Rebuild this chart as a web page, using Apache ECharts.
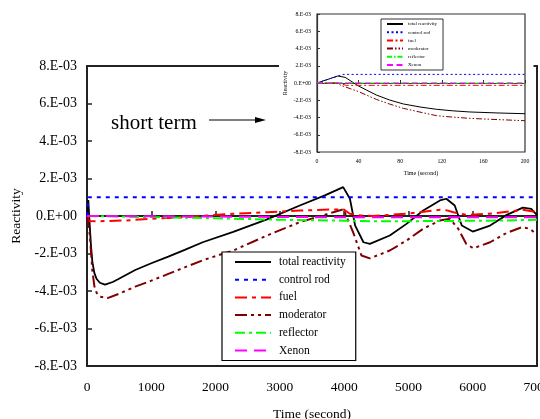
<!DOCTYPE html>
<html>
<head>
<meta charset="utf-8">
<script src="https://cdn.jsdelivr.net/npm/echarts@6/dist/echarts.min.js"></script>
<style>html,body{margin:0;padding:0;background:#fff}#c{width:540px;height:419px}</style>
</head>
<body>
<div id="c"></div>
<script>
// values in units of 1E-03
var seriesNames = ['total reactivity', 'control rod', 'fuel', 'moderator', 'reflector', 'Xenon'];
var yTickLabels = ['-8.E-03', '-6.E-03', '-4.E-03', '-2.E-03', '0.E+00', '2.E-03', '4.E-03', '6.E-03', '8.E-03'];
var xTicksMain = [0, 1000, 2000, 3000, 4000, 5000, 6000, 7000];
var xTicksInset = [0, 40, 80, 120, 160, 200];

var totalMain = [[0,0],[20,0.85],[40,-0.35],[60,-1.5],[83,-2.43],[115,-3.05],[150,-3.36],[200,-3.56],[280,-3.66],[400,-3.52],[490,-3.36],[750,-2.88],[1000,-2.52],[1265,-2.17],[1520,-1.81],[1800,-1.4],[2275,-0.85],[2800,-0.18],[3310,0.56],[3700,1.1],[3985,1.54],[4090,0.92],[4170,-0.5],[4300,-1.4],[4400,-1.49],[4710,-1.04],[4970,-0.42],[5230,0.29],[5490,0.83],[5590,0.92],[5720,0.56],[5830,-0.51],[6000,-0.83],[6270,-0.51],[6530,0.06],[6780,0.45],[6910,0.38],[7000,0.05]];
var controlMain = [[0,0],[25,1.0],[7000,1.0]];
var fuelMain = [[0,0],[20,0],[30,-0.27],[200,-0.28],[600,-0.24],[1000,-0.15],[1520,-0.06],[1750,0],[2275,0.12],[2800,0.2],[3310,0.29],[3830,0.35],[3990,0.35],[4090,0.12],[4250,0.03],[4450,0],[4970,0.12],[5490,0.33],[5600,0.3],[5700,0.2],[5900,0.06],[6270,0.12],[6780,0.33],[7000,0.2]];
var moderatorMain = [[0,0],[20,0],[40,-0.9],[60,-1.8],[83,-2.9],[115,-3.75],[150,-4.1],[200,-4.3],[330,-4.37],[490,-4.16],[750,-3.77],[1000,-3.45],[1265,-3.09],[1520,-2.74],[1800,-2.36],[2275,-1.84],[2800,-1.04],[3310,-0.33],[3830,0.2],[3990,0.36],[4140,-0.87],[4270,-2.11],[4400,-2.26],[4710,-1.84],[4970,-1.31],[5230,-0.68],[5490,-0.24],[5645,-0.15],[5775,-0.68],[5900,-1.49],[6010,-1.72],[6270,-1.4],[6530,-0.9],[6760,-0.6],[6890,-0.68],[7000,-1.0]];
var reflectorMain = [[0,0],[500,-0.03],[1000,-0.06],[2000,-0.12],[3000,-0.2],[4000,-0.25],[4500,-0.28],[5500,-0.27],[6500,-0.24],[7000,-0.2]];
var xenonMain = [[0,0],[2000,-0.03],[4000,-0.07],[7000,-0.07]];

var totalInset = [[0,0],[20,0.81],[27,0.66],[40,-0.35],[57,-1.39],[70,-1.98],[83,-2.43],[100,-2.8],[115,-3.05],[130,-3.22],[147,-3.36],[175,-3.48],[200,-3.56]];
var controlInset = [[0,0],[25,1.0],[200,1.0]];
var fuelInset = [[0,0],[20,0],[28,-0.27],[200,-0.27]];
var moderatorInset = [[0,0],[20,0],[22,-0.23],[40,-1.0],[57,-1.9],[70,-2.45],[83,-2.94],[100,-3.4],[115,-3.79],[130,-3.95],[147,-4.1],[175,-4.25],[200,-4.37]];
var reflectorInset = [[0,0],[200,-0.02]];
var xenonInset = [[0,0],[200,0]];

var FONT = 'Liberation Serif';
var colors = ['#000000', '#0000ff', '#ff0000', '#800000', '#00ff00', '#ff00ff'];
var dashMain = ['solid', [4,5], [12,5,4,5], [12,4,3,4,3,4], [10,4,3,4], [12,7]];
var dashInset = ['solid', [2,2.5], [6,2.5,2,2.5], [6,2,1.5,2,1.5,2], [5,2,1.5,2], [6,3.5]];
var mainData = [totalMain, controlMain, fuelMain, moderatorMain, reflectorMain, xenonMain];
var insetData = [totalInset, controlInset, fuelInset, moderatorInset, reflectorInset, xenonInset];
var INSET = 'inset: ';

function yFmt(v) { var i = Math.round((v + 8) / 2); return yTickLabels[i] || ''; }
function xFmt(v) { return String(v); }

var series = [];
seriesNames.forEach(function (n, i) {
  series.push({
    name: n, type: 'line', xAxisIndex: 0, yAxisIndex: 0, data: mainData[i],
    symbol: 'none', showSymbol: false, z: 2,
    lineStyle: { color: colors[i], width: i === 0 ? 1.8 : 2, type: dashMain[i] },
    itemStyle: { color: colors[i] }
  });
});
seriesNames.forEach(function (n, i) {
  series.push({
    name: INSET + n, type: 'line', xAxisIndex: 1, yAxisIndex: 1, data: insetData[i],
    symbol: 'none', showSymbol: false, z: 6,
    lineStyle: { color: colors[i], width: 1, type: dashInset[i] },
    itemStyle: { color: colors[i] }
  });
});

var axisLineMain = { show: true, lineStyle: { color: '#222', width: 2 } };
var axisLineInset = { show: true, lineStyle: { color: '#333', width: 1.2 } };

var option = {
  animation: false,
  backgroundColor: '#fff',
  textStyle: { fontFamily: FONT, color: '#000' },
  grid: [
    { left: 87, top: 66, width: 450, height: 300, show: true, borderColor: '#222', borderWidth: 2, z: 0, outerBoundsMode: 'none', containLabel: false },
    { left: 317, top: 14, width: 208, height: 138, show: true, borderColor: '#333', borderWidth: 1.2, backgroundColor: '#fff', z: 3, outerBoundsMode: 'none', containLabel: false }
  ],
  xAxis: [
    { type: 'value', gridIndex: 0, min: 0, max: 7000, interval: 1000,
      axisLine: axisLineMain, axisTick: { show: true, inside: true, length: 5, lineStyle: { color: '#222', width: 1.5 } },
      axisLabel: { fontFamily: FONT, fontSize: 13.5, color: '#000', margin: 14, showMaxLabel: true, formatter: xFmt },
      splitLine: { show: false },
      name: 'Time (second)', nameLocation: 'middle', nameGap: 41,
      nameTextStyle: { fontFamily: FONT, fontSize: 13.5, color: '#000' } },
    { type: 'value', gridIndex: 1, min: 0, max: 200, interval: 40, z: 4,
      axisLine: axisLineInset, axisTick: { show: true, inside: true, length: 3, lineStyle: { color: '#333', width: 1 } },
      axisLabel: { fontFamily: FONT, fontSize: 5.8, color: '#000', margin: 6, formatter: xFmt },
      splitLine: { show: false },
      name: 'Time (second)', nameLocation: 'middle', nameGap: 18,
      nameTextStyle: { fontFamily: FONT, fontSize: 6, color: '#000' } }
  ],
  yAxis: [
    { type: 'value', gridIndex: 0, min: -8, max: 8, interval: 2,
      axisLine: axisLineMain, axisTick: { show: true, inside: true, length: 5, lineStyle: { color: '#222', width: 1.5 } },
      axisLabel: { fontFamily: FONT, fontSize: 14, color: '#000', margin: 10, formatter: yFmt },
      splitLine: { show: false },
      name: 'Reactivity', nameLocation: 'middle', nameGap: 57,
      nameTextStyle: { fontFamily: FONT, fontSize: 13.5, color: '#000' } },
    { type: 'value', gridIndex: 1, min: -8, max: 8, interval: 2, z: 4,
      axisLine: axisLineInset, axisTick: { show: true, inside: true, length: 3, lineStyle: { color: '#333', width: 1 } },
      axisLabel: { fontFamily: FONT, fontSize: 5.8, color: '#000', margin: 6, formatter: yFmt },
      splitLine: { show: false },
      name: 'Reactivity', nameLocation: 'middle', nameGap: 29,
      nameTextStyle: { fontFamily: FONT, fontSize: 6, color: '#000' } }
  ],
  legend: [
    { data: seriesNames, orient: 'vertical', left: 222, top: 252, z: 8,
      itemStyle: { opacity: 0, borderWidth: 0 },
      backgroundColor: '#fff', borderColor: '#000', borderWidth: 1.2,
      padding: [4, 10, 4, 12], itemWidth: 36, itemHeight: 12, itemGap: 5.7,
      textStyle: { fontFamily: FONT, fontSize: 11.5, color: '#000', lineHeight: 12, padding: [0, 0, 0, 3] },
      selectedMode: false },
    { data: seriesNames.map(function (n) { return INSET + n; }), orient: 'vertical', left: 381, top: 19, z: 8,
      itemStyle: { opacity: 0, borderWidth: 0 },
      backgroundColor: '#fff', borderColor: '#000', borderWidth: 0.8,
      padding: [2, 6, 2, 5], itemWidth: 16, itemHeight: 6, itemGap: 2.2,
      formatter: function (n) { return n.replace(INSET, ''); },
      textStyle: { fontFamily: FONT, fontSize: 5, color: '#000', lineHeight: 6 },
      selectedMode: false }
  ],
  graphic: [
    { type: 'rect', z: 1, shape: { x: 279, y: 0, width: 254.5, height: 182 }, style: { fill: '#fff' }, silent: true },
    { type: 'text', z: 5, left: 111, top: 113, style: { text: 'short term', fontFamily: FONT, fontSize: 21, fill: '#000' } },
    { type: 'line', z: 5, shape: { x1: 209, y1: 120, x2: 258, y2: 120 }, style: { stroke: '#000', lineWidth: 1.2 } },
    { type: 'polygon', z: 5, shape: { points: [[266, 120], [255, 117], [255, 123]] }, style: { fill: '#000' } }
  ],
  series: series
};

var chart = echarts.init(document.getElementById('c'), null, { renderer: 'canvas' });
chart.setOption(option);
</script>
</body>
</html>
